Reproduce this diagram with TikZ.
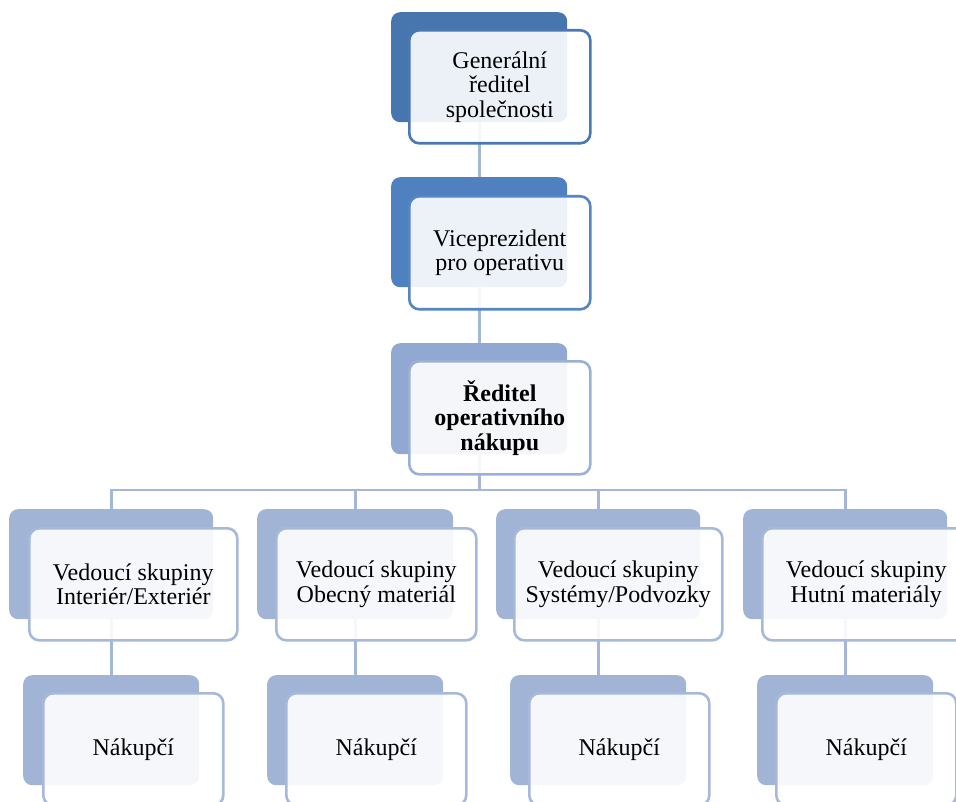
\documentclass[tikz,border=0pt]{standalone}
\usepackage{fontspec}
\setmainfont{Liberation Serif}
\definecolor{backA}{HTML}{4775AE}
\definecolor{lineA}{HTML}{4A78B4}
\definecolor{backB}{HTML}{4F81C0}
\definecolor{lineB}{HTML}{5585C4}
\definecolor{backC}{HTML}{91A8D2}
\definecolor{lineC}{HTML}{9BB0D8}
\definecolor{backD}{HTML}{A2B4D6}
\definecolor{lineD}{HTML}{A7B9DA}
\definecolor{linkc}{HTML}{A5B7D9}
\begin{document}
\begin{tikzpicture}[x=1pt,y=-1pt,
  back/.style={rectangle, rounded corners=9pt, inner sep=0pt, anchor=north west},
  front/.style={rectangle, rounded corners=10pt, inner sep=0pt, anchor=north west,
    fill=white, fill opacity=0.9, text opacity=1, line width=2.6pt, align=center,
    font=\fontsize{24}{24.5}\selectfont},
  lvlA/.style={fill=backA, minimum width=176pt, minimum height=110pt},
  lvlB/.style={fill=backB, minimum width=176pt, minimum height=110pt},
  lvlC/.style={fill=backC, minimum width=176pt, minimum height=111pt},
  lvlD/.style={fill=backD, minimum width=204pt, minimum height=110pt},
  lvlE/.style={fill=backD, minimum width=176pt, minimum height=110pt},
  fA/.style={front, draw=lineA, minimum width=181pt, minimum height=113pt},
  fB/.style={front, draw=lineB, minimum width=181pt, minimum height=113pt},
  fC/.style={front, draw=lineC, minimum width=181pt, minimum height=113pt},
  fD/.style={front, draw=lineD, minimum width=208pt, minimum height=112pt},
  fE/.style={front, draw=lineD, minimum width=180pt, minimum height=112pt},
  link/.style={draw=linkc, line width=2.6pt}
]
\useasboundingbox (0,0) rectangle (956,802);

% coloured back plates
\node[back, lvlA] (gA) at (391,12) {};
\node[back, lvlB] (gB) at (391,177) {};
\node[back, lvlC] (gC) at (391,343) {};
\node[back, lvlD] (g1) at (9,509) {};
\node[back, lvlD, minimum width=196pt] (g2) at (257,509) {};
\node[back, lvlD] (g3) at (496,509) {};
\node[back, lvlD] (g4) at (743,509) {};
\node[back, lvlE] (n1) at (23,675) {};
\node[back, lvlE] (n2) at (267,675) {};
\node[back, lvlE] (n3) at (510,675) {};
\node[back, lvlE] (n4) at (757,675) {};

% connectors
\coordinate (bus) at (gC.south |- 0,490);
\draw[link] (gA.south) -- (gB.north);
\draw[link] (gB.south) -- (gC.north);
\draw[link] (gC.south) -- (bus);
\draw[link] (bus) -| (g1.north);
\draw[link] (bus) -| (g2.north);
\draw[link] (bus) -| (g3.north);
\draw[link] (bus) -| (g4.north);
\draw[link] (g1.south) -- (n1.north);
\draw[link] (g2.south) -- (n2.north);
\draw[link] (g3.south) -- (n3.north);
\draw[link] (g4.south) -- (n4.north);

% text cards
\node[fA] (tA) at (408,29) {Generální\\ředitel\\společnosti};
\node[fB] (tB) at (408,195) {Viceprezident\\pro operativu};
\node[fC] (tC) at (408,360) {\bfseries Ředitel\\\bfseries operativního\\\bfseries nákupu};
\node[fD] (t1) at (28,527) {Vedoucí skupiny\\Interiér/Exteriér};
\node[fD, minimum width=200pt] (t2) at (275,527) {Vedoucí skupiny\\Obecný materiál};
\node[fD] (t3) at (513,527) {Vedoucí skupiny\\Systémy/Podvozky};
\node[fD] (t4) at (761,527) {Vedoucí skupiny\\Hutní materiály};
\node[fE] (m1) at (42,692) {Nákupčí};
\node[fE] (m2) at (285,692) {Nákupčí};
\node[fE] (m3) at (528,692) {Nákupčí};
\node[fE] (m4) at (775,692) {Nákupčí};
\end{tikzpicture}
\end{document}
